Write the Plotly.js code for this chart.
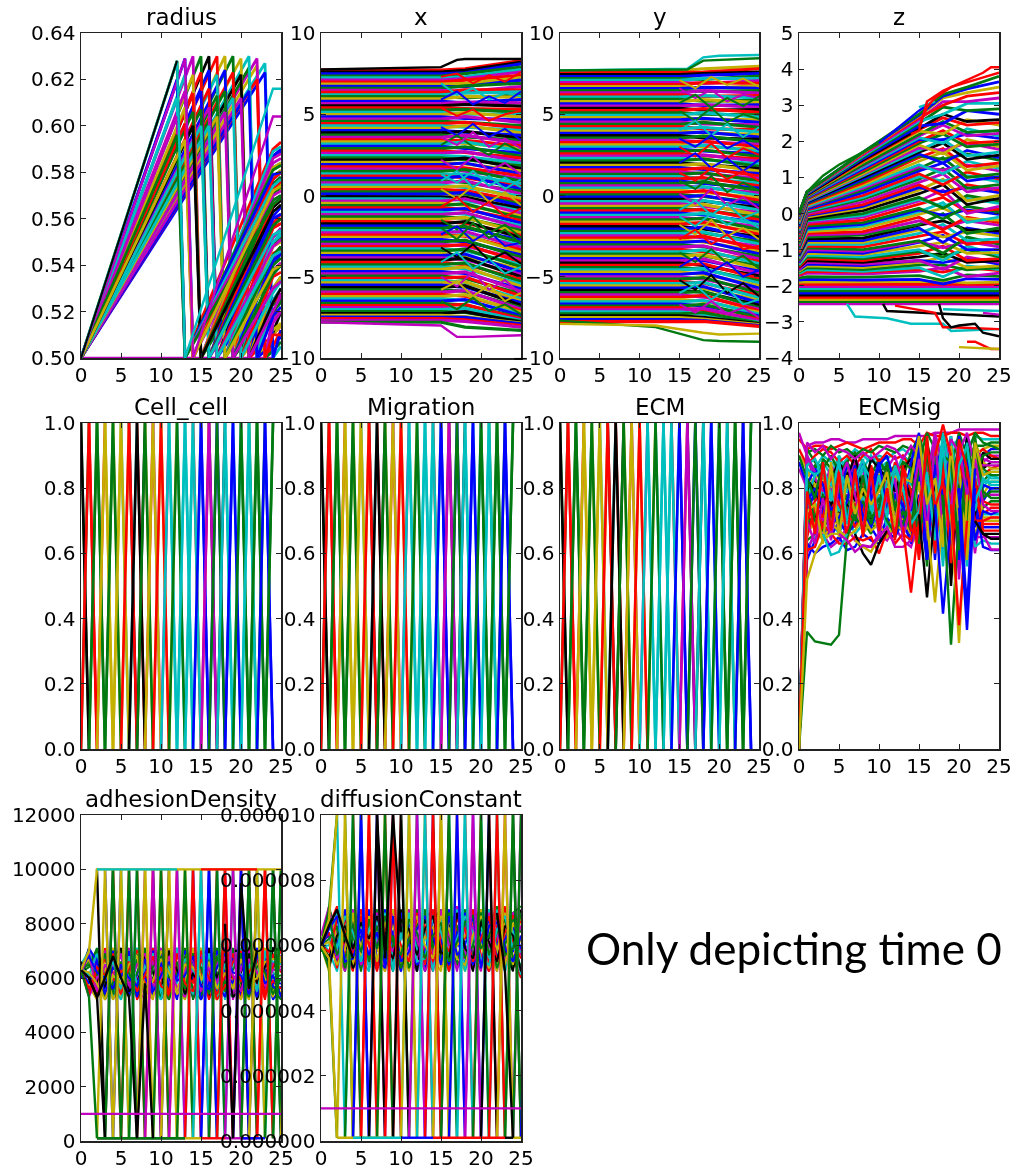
<!DOCTYPE html>
<html><head><meta charset="utf-8">
<script src="https://cdn.plot.ly/plotly-3.0.1.min.js"></script>
<style>html,body{margin:0;padding:0;background:#fff;overflow:hidden}#chart svg{filter:blur(.45px)}</style>
</head><body><div id="chart" style="width:1015px;height:1166px"></div>
<script>
const cycle = {b:"#0000ff",g:"#007a10",r:"#ff0000",c:"#00bfbf",m:"#bf00bf",y:"#c4b000",k:"#000000"};
const cycleKeys = "rbgmcyrgbkcmygrbcmgyrkbgcmrybgmrcgybmkrgcybmgrcybkgmrycbgrmcgkybrmgc".split("");

// radius: [time of peak, peak value, value at 24, value at 25]
const radiusRows = [
[23,.627,.5,.505],[22,.626,.512,.515],[23,.623,.5,.512],[22,.629,.515,.52],[21,.625,.52,.524],[22,.62,.51,.51],[21,.63,.525,.53],
[20,.629,.53,.535],[21,.615,.518,.522],[20,.622,.524,.53],[19,.63,.54,.543],[20,.612,.52,.527],[19,.623,.535,.537],[18,.63,.548,.55],
[19,.612,.528,.533],[18,.624,.542,.545],[18,.615,.536,.54],[17,.63,.556,.558],[18,.606,.53,.533],[17,.622,.55,.553],[17,.613,.544,.548],
[16,.63,.565,.568],[17,.604,.538,.54],[16,.624,.56,.562],[16,.616,.556,.558],[16,.608,.548,.551],[15,.63,.57,.574],[16,.6,.544,.546],
[15,.623,.566,.569],[15,.615,.561,.565],[15,.607,.557,.56],[14,.63,.584,.586],[15,.6,.553,.555],[14,.622,.578,.581],[14,.614,.573,.576],
[14,.606,.568,.57],[13,.629,.587,.589],[14,.6,.563,.566],[13,.622,.589,.591],[13,.615,.586,.588],[13,.608,.582,.584],[12,.628,.581,.583],
[13,.601,.577,.58],[12,.62,.579,.58],[12,.612,.574,.577],[12,.604,.57,.572],[12,.596,.566,.569],[13,.594,.572,.574]
];
// radius: second growth after division: [start time, value at 24, value at 25]
const radiusLegs = [
[13,.59,.593],[14,.587,.59],[14,.575,.578],[14,.568,.57],[15,.582,.584],[15,.57,.573],[15,.558,.56],[15,.549,.552],[16,.577,.58],[16,.565,.568],[16,.552,.554],[16,.543,.546],
[17,.572,.575],[17,.558,.56],[17,.545,.547],[17,.536,.54],[18,.566,.57],[18,.552,.556],[18,.538,.54],[18,.53,.534],[19,.558,.562],[19,.544,.548],[19,.53,.533],[19,.523,.526],
[20,.55,.553],[20,.538,.541],[20,.524,.527],[20,.518,.52],[21,.54,.545],[21,.53,.535],[21,.516,.52],[21,.51,.514],[22,.53,.534],[22,.52,.525],[22,.51,.514],[22,.506,.509],
[23,.518,.528],[23,.511,.52],[23,.505,.512],[23,.503,.507]
];
const radiusCyan = [.5,.628,.5,.616,.616];
const radiusMagenta = [.5,.629,.5,.604,.604];
const radiusFlat = [.5,.5,.5];

// x position: [value up to t=15, value at 18, value at 25]
const xRows = [
[7.72,7.8,8.3],[7.6,7.7,8.2],[7.48,7.55,8.1],[7.35,7.5,7.9],[7.24,7.3,7.75],[7.1,7.2,7.6],[6.98,7.1,7.4],[6.85,6.9,7.25],[6.72,6.7,7.1],[6.6,6.75,6.9],
[6.47,6.4,6.7],[6.35,6.5,6.5],[6.2,6.3,6.38],[6.08,6.0,6.2],[5.95,6.1,6.05],[5.8,5.7,5.9],[5.66,5.75,5.7],[5.52,5.6,5.5],[5.4,5.35,5.3],[5.25,5.3,5.12],
[5.12,5.0,5.0],[4.98,5.1,4.82],[4.84,4.75,4.65],[4.7,4.85,4.5],[4.56,4.5,4.3],[4.42,4.5,4.15],[4.28,4.2,4.0],[4.14,4.3,3.85],[4.0,3.9,3.7],[3.86,3.95,3.52],
[3.72,3.6,3.4],[3.58,3.7,3.22],[3.44,3.4,3.05],[3.3,3.2,2.9],[3.16,3.3,2.75],[3.02,2.9,2.6],[2.88,3.0,2.42],[2.74,2.65,2.3],[2.6,2.7,2.1],[2.46,2.4,1.98],
[2.32,2.2,1.82],[2.18,2.3,1.66],[2.04,1.95,1.5],[1.9,2.0,1.33],[1.76,1.7,1.2],[1.62,1.5,1.02],[1.48,1.6,.88],[1.34,1.3,.7],[1.2,1.1,.55],[1.06,1.2,.4],
[.92,.8,.25],[.78,.9,.1],[.64,.5,-.05],[.5,.6,-.2],[.36,.3,-.36],[.22,.1,-.5],[.08,.2,-.66],[-.06,-.1,-.8],[-.2,-.3,-.95],[-.34,-.2,-1.1],
[-.48,-.6,-1.26],[-.62,-.5,-1.4],[-.76,-.85,-1.55],[-.9,-.8,-1.7],[-1.04,-1.15,-1.85],[-1.18,-1.05,-2.0],[-1.32,-1.4,-2.15],[-1.46,-1.35,-2.3],[-1.6,-1.7,-2.45],[-1.74,-1.6,-2.6],
[-1.88,-2.0,-2.75],[-2.02,-1.9,-2.9],[-2.16,-2.3,-3.05],[-2.3,-2.2,-3.2],[-2.44,-2.5,-3.35],[-2.58,-2.45,-3.5],[-2.72,-2.85,-3.65],[-2.86,-2.75,-3.8],[-3.0,-3.1,-3.95],[-3.14,-3.0,-4.1],
[-3.28,-3.4,-4.25],[-3.42,-3.3,-4.4],[-3.56,-3.7,-4.55],[-3.7,-3.6,-4.7],[-3.84,-3.95,-4.85],[-3.98,-3.85,-5.0],[-4.12,-4.25,-5.15],[-4.26,-4.15,-5.3],[-4.4,-4.5,-5.45],[-4.54,-4.4,-5.6],
[-4.68,-4.8,-5.75],[-4.82,-4.7,-5.9],[-4.96,-5.1,-6.05],[-5.1,-5.0,-6.2],[-5.24,-5.35,-6.35],[-5.38,-5.3,-6.5],[-5.52,-5.65,-6.6],[-5.66,-5.55,-6.75],[-5.8,-5.9,-6.9],[-5.94,-5.85,-7.0],
[-6.08,-6.2,-7.1],[-6.22,-6.1,-7.2],[-6.36,-6.45,-7.3],[-6.5,-6.4,-7.4],[-6.64,-6.75,-7.5],[-6.78,-6.7,-7.6],[-6.9,-7.0,-7.65],[-7.02,-6.95,-7.7],[-7.14,-7.2,-7.75],[-7.26,-7.15,-7.8],
[-7.38,-7.45,-7.85],[-7.48,-7.5,-7.9],[-7.58,-7.65,-8.0],[-7.68,-7.75,-8.1],[-7.8,-8.1,-8.3]
];
// x position: lines that wander late: values at t = 15,17,19,21,23,25
const xDrift = [
[6.9,6.2,6.6,5.9,6.3,6.1],[5.4,4.9,5.3,4.6,5.0,5.2],[4.2,3.7,4.4,3.6,4.1,3.4],[3.1,3.7,3.0,2.5,3.2,2.7],[2.2,1.6,2.4,1.5,2.0,1.3],[1.3,.8,1.5,.6,1.1,.5],
[.4,-.2,.6,-.4,.2,-.6],[-.7,-.1,-1.0,-.4,-1.3,-.8],[-1.5,-2.1,-1.3,-2.3,-1.8,-2.6],[-2.4,-1.9,-2.8,-2.2,-3.1,-2.9],[-3.2,-3.8,-3.0,-4.0,-3.5,-4.2],[-4.1,-3.5,-4.5,-3.9,-4.8,-4.4],
[-5.0,-5.6,-4.7,-5.8,-5.2,-6.1],[-5.8,-5.3,-6.2,-5.5,-6.5,-6.0],[-6.5,-7.0,-6.3,-7.1,-6.7,-7.3],[7.3,7.5,6.9,7.4,7.0,7.6],[5.9,6.4,5.6,6.1,5.7,6.4],[.9,1.5,.5,1.2,.4,1.0],
[3.6,3.1,3.9,3.0,3.5,2.9],[-2.0,-2.7,-1.7,-2.6,-2.1,-3.0]
];
const xTopBlack = [7.75,7.9,8.35,8.4,8.4];
const xLowMagenta = [-7.8,-8.0,-8.7,-8.7,-8.6];

// y position: [value up to t=15, value at 18, value at 25]
const yRows = [
[7.68,7.8,7.95],[7.56,7.6,7.8],[7.44,7.5,7.6],[7.32,7.4,7.5],[7.2,7.15,7.35],[7.08,7.2,7.2],[6.95,6.9,7.05],[6.82,6.95,6.9],[6.7,6.6,6.75],[6.58,6.65,6.6],
[6.45,6.4,6.45],[6.32,6.45,6.3],[6.2,6.1,6.15],[6.06,6.15,6.0],[5.92,5.8,5.85],[5.78,5.9,5.72],[5.64,5.55,5.58],[5.5,5.6,5.42],[5.36,5.25,5.28],[5.22,5.35,5.12],
[5.08,5.0,4.96],[4.94,5.1,4.82],[4.8,4.7,4.66],[4.66,4.75,4.5],[4.52,4.4,4.35],[4.38,4.5,4.2],[4.24,4.1,4.05],[4.1,4.2,3.9],[3.96,3.85,3.75],[3.82,3.9,3.6],
[3.68,3.55,3.45],[3.54,3.65,3.3],[3.4,3.3,3.15],[3.26,3.35,3.0],[3.12,3.0,2.85],[2.98,3.1,2.7],[2.84,2.75,2.55],[2.7,2.8,2.4],[2.56,2.45,2.25],[2.42,2.5,2.1],
[2.28,2.2,1.95],[2.14,2.25,1.8],[2.0,1.9,1.65],[1.86,1.95,1.5],[1.72,1.6,1.35],[1.58,1.7,1.2],[1.44,1.35,1.05],[1.3,1.4,.9],[1.16,1.05,.75],[1.02,1.1,.6],
[.88,.75,.45],[.74,.85,.3],[.6,.5,.15],[.46,.55,0],[.32,.2,-.15],[.18,.3,-.3],[.04,-.05,-.45],[-.1,0,-.6],[-.24,-.35,-.75],[-.38,-.3,-.9],
[-.52,-.65,-1.05],[-.66,-.55,-1.2],[-.8,-.9,-1.35],[-.94,-.85,-1.5],[-1.08,-1.2,-1.65],[-1.22,-1.1,-1.8],[-1.36,-1.45,-1.95],[-1.5,-1.4,-2.1],[-1.64,-1.75,-2.25],[-1.78,-1.65,-2.4],
[-1.92,-2.05,-2.55],[-2.06,-1.95,-2.7],[-2.2,-2.3,-2.85],[-2.34,-2.25,-3.0],[-2.48,-2.6,-3.15],[-2.62,-2.5,-3.3],[-2.76,-2.85,-3.45],[-2.9,-2.8,-3.6],[-3.04,-3.15,-3.75],[-3.18,-3.1,-3.9],
[-3.32,-3.45,-4.05],[-3.46,-3.35,-4.2],[-3.6,-3.7,-4.35],[-3.74,-3.65,-4.5],[-3.88,-4.0,-4.65],[-4.02,-3.9,-4.8],[-4.16,-4.3,-4.95],[-4.3,-4.2,-5.1],[-4.44,-4.55,-5.25],[-4.58,-4.5,-5.4],
[-4.72,-4.85,-5.55],[-4.86,-4.75,-5.7],[-5.0,-5.15,-5.85],[-5.14,-5.05,-6.0],[-5.28,-5.4,-6.15],[-5.42,-5.35,-6.3],[-5.56,-5.7,-6.45],[-5.7,-5.6,-6.6],[-5.84,-5.95,-6.75],[-5.98,-5.9,-6.9],
[-6.12,-6.25,-7.0],[-6.26,-6.15,-7.1],[-6.4,-6.5,-7.2],[-6.54,-6.45,-7.3],[-6.68,-6.8,-7.4],[-6.8,-6.7,-7.5],[-6.92,-7.05,-7.6],[-7.04,-6.95,-7.7],[-7.16,-7.3,-7.8],[-7.28,-7.2,-7.85],
[-7.4,-7.5,-7.9],[-7.52,-7.6,-7.95],[-7.64,-7.7,-8.0],[-7.76,-7.75,-8.05]
];
// y position: lines that wander late: values at t = 15,17,19,21,23,25
const yDrift = [
[6.6,6.0,6.5,5.8,6.2,6.0],[5.2,4.6,5.4,4.5,5.0,4.7],[4.0,4.6,3.7,4.4,3.6,4.2],[3.0,2.4,3.2,2.3,2.9,2.5],[2.0,2.6,1.7,2.3,1.5,2.2],[.9,.4,1.2,.2,.8,.3],
[.1,-.5,.4,-.6,-.1,-.8],[-.9,-.3,-1.2,-.5,-1.4,-1.0],[-1.8,-2.4,-1.5,-2.5,-2.0,-2.7],[-2.7,-2.1,-3.0,-2.4,-3.3,-3.1],[-3.5,-4.1,-3.3,-4.2,-3.7,-4.5],[-4.4,-3.8,-4.7,-4.1,-5.0,-4.6],
[-5.2,-5.8,-4.9,-6.0,-5.4,-6.2],[-6.0,-5.5,-6.4,-5.7,-6.7,-6.4],[-6.7,-7.2,-6.5,-7.3,-6.9,-7.5],[7.1,6.6,7.3,6.8,7.2,6.7],[5.7,6.2,5.4,6.0,5.5,6.1],[1.4,.9,1.7,1.0,1.5,.9],
[3.5,3.0,3.7,2.9,3.4,2.8],[-1.3,-1.9,-1.1,-1.8,-1.4,-2.0]
];
const yHighCyan = [7.7,7.8,8.5,8.6,8.65];
const yHighGreen = [7.7,7.75,8.3,8.35,8.45];
const yLowGreen = [-7.7,-8.1,-8.9,-8.95,-9.0];
const yLowOlive = [-7.9,-8.0,-8.45,-8.55,-8.5];

// z position: [t=0, 1, 8, 15, 18, 21, 25]
const zRows = [
[-2.5,-2.5,-2.5,-2.5,-2.5,-2.5,-2.5],[-2.44,-2.44,-2.44,-2.44,-2.44,-2.44,-2.44],[-2.38,-2.38,-2.38,-2.38,-2.38,-2.38,-2.38],[-2.32,-2.32,-2.32,-2.32,-2.32,-2.32,-2.32],
[-2.26,-2.26,-2.26,-2.26,-2.26,-2.26,-2.26],[-2.2,-2.2,-2.2,-2.2,-2.2,-2.2,-2.2],[-2.14,-2.14,-2.14,-2.14,-2.14,-2.14,-2.14],[-2.08,-2.08,-2.08,-2.08,-2.08,-2.08,-2.08],
[-2.02,-2.02,-2.02,-2.02,-2.02,-2.02,-2.02],[-1.96,-1.96,-1.96,-1.96,-1.96,-1.96,-1.96],[-1.9,-1.9,-1.9,-1.9,-1.88,-1.92,-1.9],[-1.84,-1.82,-1.84,-1.82,-1.95,-1.8,-1.82],
[-1.78,-1.75,-1.76,-1.72,-1.85,-1.7,-1.74],[-1.72,-1.65,-1.68,-1.6,-1.5,-1.75,-1.65],[-1.7,-1.6,-1.62,-1.55,-1.62,-1.5,-1.58],[-1.66,-1.55,-1.6,-1.5,-1.75,-1.45,-1.55],[-1.62,-1.5,-1.55,-1.42,-1.42,-1.56,-1.5],[-1.6,-1.45,-1.5,-1.35,-1.2,-1.5,-1.45],
[-1.56,-1.4,-1.44,-1.3,-1.36,-1.24,-1.4],[-1.54,-1.35,-1.4,-1.3,-1.55,-1.2,-1.35],[-1.5,-1.3,-1.35,-1.2,-1.1,-1.35,-1.3],[-1.48,-1.25,-1.3,-1.1,-.9,-1.3,-1.25],[-1.44,-1.2,-1.25,-1.05,-1.2,-1.0,-1.2],[-1.42,-1.15,-1.2,-1.0,-1.3,-.9,-1.15],[-1.38,-1.1,-1.14,-.9,-.8,-1.1,-1.08],[-1.36,-1.05,-1.1,-.8,-.6,-1.0,-1.0],
[-1.32,-1.0,-1.05,-.78,-.95,-.78,-.92],[-1.3,-.95,-1.0,-.75,-1.1,-.65,-.85],[-1.26,-.9,-.92,-.62,-.5,-.85,-.78],[-1.24,-.85,-.85,-.55,-.3,-.75,-.7],[-1.2,-.8,-.8,-.45,-.65,-.5,-.62],[-1.18,-.75,-.75,-.4,-.8,-.4,-.55],[-1.14,-.7,-.68,-.32,-.2,-.45,-.48],[-1.12,-.65,-.6,-.3,0,-.55,-.4],[-1.08,-.6,-.55,-.2,-.4,-.2,-.32],[-1.06,-.55,-.5,-.1,-.45,-.1,-.25],
[-1.02,-.5,-.42,-.02,.15,-.15,-.18],[-1,-.45,-.35,.05,.3,-.25,-.1],[-.96,-.4,-.3,.1,-.05,.1,-.02],[-.94,-.35,-.25,.15,-.15,.2,.05],[-.9,-.3,-.18,.25,.45,.05,.12],[-.88,-.25,-.1,.35,.65,0,.2],[-.84,-.2,-.05,.4,.2,.42,.28],[-.82,-.18,0,.45,.15,.5,.35],[-.78,-.14,.08,.55,.8,.25,.42],[-.76,-.1,.15,.65,.95,.35,.5],
[-.72,-.06,.2,.72,.6,.72,.58],[-.7,-.03,.25,.8,.5,.8,.65],[-.66,0,.32,.88,1.1,.6,.72],[-.64,.04,.4,.95,1.25,.7,.8],[-.6,.07,.45,1.02,.9,1.05,.88],[-.58,.1,.5,1.1,.8,1.15,.95],[-.54,.13,.58,1.18,1.4,.9,1.02],[-.52,.16,.65,1.25,1.55,1.0,1.1],[-.48,.18,.7,1.3,1.2,1.35,1.18],[-.46,.2,.75,1.35,1.1,1.45,1.25],
[-.42,.23,.8,1.45,1.7,1.2,1.32],[-.4,.25,.85,1.55,1.8,1.3,1.4],[-.36,.28,.9,1.6,1.5,1.65,1.48],[-.34,.3,.95,1.65,1.4,1.75,1.55],[-.3,.32,1,1.7,1.95,1.5,1.62],[-.28,.34,1.05,1.75,2.05,1.6,1.7],[-.24,.36,1.08,1.82,1.75,1.95,1.78],[-.22,.38,1.1,1.9,1.65,2.05,1.85],[-.18,.4,1.15,1.95,2.2,1.85,1.92],[-.16,.42,1.2,2.0,2.3,1.95,2.0],[-.14,.44,1.24,2.05,2.05,2.2,2.08],
[-.12,.46,1.28,2.1,1.95,2.35,2.15],[-.1,.47,1.32,2.15,2.45,2.15,2.22],[-.08,.48,1.35,2.2,2.55,2.25,2.3],[-.05,.5,1.42,2.28,2.2,2.6,2.45],[-.04,.51,1.45,2.32,2.65,2.45,2.52],[-.03,.52,1.48,2.35,2.75,2.55,2.6],[-.02,.54,1.52,2.42,2.5,2.85,2.75],
[-.01,.56,1.56,2.5,2.95,2.85,2.9],[0,.57,1.6,2.55,2.75,3.05,3.05],[0,.58,1.63,2.6,3.1,3.1,3.2],[0,.59,1.66,2.65,3.0,3.25,3.35],[0,.6,1.68,2.7,3.2,3.35,3.5],[0,.6,1.7,2.72,3.25,3.45,3.65],[0,.6,1.7,2.75,3.3,3.5,3.8]
];
const zExtraSets = [
 {c:"g",t:[0,1,3,5,8,10],v:[0,.6,1.05,1.35,1.7,1.95]},
 {c:"b",t:[10,15,16,17],v:[1.95,2.85,3.0,3.05]},
 {c:"c",t:[15,17],v:[2.95,3.1]},
 {c:"r",t:[14,15,16,18,20,23,24,25],v:[2.2,2.3,3.1,3.4,3.6,3.9,4.05,4.05]},
 {c:"r",t:[15,16,17,19,22,25],v:[2.4,2.95,3.2,3.5,3.7,3.9]},
 {c:"c",t:[6,7,11,14,18,19,25],v:[-2.5,-2.85,-2.9,-3.05,-3.05,-3.25,-3.2]},
 {c:"k",t:[10.5,11,25],v:[-2.5,-2.7,-2.85]},
 {c:"r",t:[12,17,18,19,25],v:[-2.55,-2.75,-3.15,-3.15,-3.2]},
 {c:"k",t:[17.5,18,19,20,22,23,25],v:[-2.5,-2.9,-3.15,-3.1,-3.05,-3.3,-3.4]},
 {c:"c",t:[18,25],v:[-2.65,-2.7]},
 {c:"m",t:[23,25],v:[-2.75,-2.8]},
 {c:"r",t:[21,22,23,24,25],v:[-3.55,-3.55,-3.65,-3.75,-3.75]},
 {c:"y",t:[20,25],v:[-3.7,-3.75]}
];

// ECMsig, in hundredths, t = 0..25
const ecmRows = [
[0,93,94,94,95,95,94,94,95,95,95,95,96,96,96,96,96,97,97,97,98,98,98,98,98,98],
[95,92,93,93,92,93,94,93,92,93,94,94,94,95,95,93,97,96,96,97,97,96,97,97,96,96],
[0,88,86,90,88,86,89,92,90,88,90,89,91,92,90,95,85,96,90,93,95,92,96,95,95,95],
[0,84,87,83,82,86,88,84,82,86,85,87,84,88,87,70,95,78,93,72,92,88,93,93,94,94],
[0,78,83,85,80,78,82,86,83,80,84,80,83,85,82,92,66,94,60,96,70,94,90,92,93,93],
[0,74,78,76,82,76,73,78,82,84,80,82,78,80,86,66,93,58,90,55,92,62,91,90,92,92],
[86,80,72,76,74,79,83,77,72,74,78,73,80,76,74,90,62,90,68,94,52,90,72,88,90,90],
[0,68,71,74,79,72,75,72,78,70,74,79,72,78,72,83,88,64,95,50,88,58,94,86,88,88],
[0,72,68,72,68,76,70,74,68,76,70,72,76,70,78,60,90,72,85,65,96,75,85,84,86,87],
[0,64,66,70,74,70,67,72,70,66,72,70,68,74,68,86,56,88,62,90,60,92,70,82,85,85],
[0,62,65,65,70,66,72,66,69,72,67,69,72,66,70,64,84,60,92,70,82,56,88,80,84,83],
[90,86,80,84,78,82,79,85,76,82,80,76,84,78,83,73,92,82,75,92,70,88,64,78,82,82],
[0,58,64,68,65,70,66,69,74,68,64,71,67,72,65,78,60,85,58,84,75,66,92,76,80,80],
[0,76,74,70,80,74,78,70,75,79,76,74,70,82,76,91,70,62,88,60,90,80,60,78,78,78],
[0,82,76,80,72,84,76,82,79,74,83,77,82,75,80,68,86,94,70,88,62,85,76,74,76,76],
[0,70,75,68,76,68,74,68,72,78,70,84,75,68,74,88,63,76,92,66,86,70,90,72,74,74],
[0,90,85,88,84,90,85,88,86,90,86,88,84,90,88,94,78,90,82,92,80,93,84,72,72,72],
[0,66,70,73,67,72,69,76,66,70,68,66,74,70,66,62,88,70,64,94,72,82,66,70,70,70],
[0,73,79,72,86,78,71,80,74,68,75,72,78,72,84,76,58,93,74,68,94,60,80,68,68,68],
[0,79,82,78,75,80,85,76,84,77,82,86,79,84,77,60,90,68,86,75,66,90,74,66,66,66],
[0,92,88,86,90,85,88,91,88,84,89,84,87,83,91,96,88,72,95,85,78,95,88,86,84,84],
[0,60,67,66,62,64,68,64,62,62,66,64,68,64,62,70,93,62,84,64,92,68,65,65,65,65],
[92,87,90,92,91,88,90,87,90,92,88,91,89,90,86,92,74,96,68,90,84,72,90,92,90,89],
[0,85,81,82,85,81,86,83,80,85,81,83,86,81,85,80,95,74,90,62,94,78,94,88,86,86],
[0,75,73,80,70,74,80,74,77,72,78,68,70,76,72,95,72,86,56,93,68,84,62,64,63,63],
[0,63,60,62,63,65,61,62,66,64,63,66,65,70,63,84,60,92,76,96,58,96,76,62,61,61],
[0,91,92,90,93,91,92,90,92,91,93,92,91,93,92,88,97,92,97,86,97,90,97,94,93,92],
[0,71,76,82,77,86,81,88,81,87,79,81,85,87,79,58,86,66,94,80,63,93,82,76,75,75],
[0,89,83,79,87,83,80,89,85,78,82,86,90,81,84,75,90,66,96,78,90,74,92,89,88,88],
[0,77,84,87,78,73,84,79,86,82,72,78,74,84,81,93,82,70,84,96,76,91,80,85,83,83],
[0,69,72,78,71,80,77,71,68,74,81,75,71,69,76,66,78,92,64,82,93,65,87,79,77,77],
[0,83,79,74,83,88,83,90,78,89,86,83,79,86,89,71,94,80,66,90,72,96,70,91,89,89],
[0,67,69,64,69,67,65,67,71,67,69,65,69,67,69,82,64,95,80,70,88,58,93,71,71,71],
[88,81,86,81,73,77,87,82,88,76,87,90,81,74,88,97,68,85,94,60,96,82,68,81,80,80],
[0,65,74,71,84,75,70,75,73,81,73,76,88,77,71,62,96,60,87,76,64,88,78,69,69,69],
[0,94,91,93,89,92,91,89,91,89,91,93,92,89,93,90,82,97,86,95,91,97,87,87,87,87],
[0,80,70,67,73,69,82,73,76,69,77,70,66,73,67,87,76,93,72,86,80,70,96,77,79,79],
[0,87,89,84,81,87,79,81,87,83,71,82,86,79,85,69,89,76,97,83,67,94,73,83,81,81],
[0,61,62,69,66,63,63,65,64,65,60,67,63,66,64,74,91,68,88,57,90,76,83,67,67,67],
[0,76,80,75,69,71,76,87,70,80,88,74,77,81,73,94,58,87,78,92,74,89,64,73,72,73],
[90,83,77,89,86,80,73,70,84,71,74,88,73,88,86,63,92,71,90,88,61,92,84,90,91,91],
[0,70,63,77,64,82,88,78,67,85,65,78,83,65,75,89,67,95,66,74,93,78,89,75,73,73],
[0,86,84,86,76,89,69,83,89,73,84,71,87,80,69,73,85,64,94,68,87,93,76,82,82,82],
[0,73,75,63,88,65,84,72,80,75,79,85,69,83,82,96,75,83,62,93,70,63,94,84,85,85],
[0,79,66,88,67,85,64,86,65,86,67,80,64,87,67,68,94,74,82,64,95,86,70,70,71,71]
];
const ecmSpecial = [
 {c:"g",t:[0,1,2,3,4,5,6,7],v:[0,.36,.33,.325,.32,.35,.65,.72]},
 {c:"y",t:[0,1,2,3,4,5],v:[0,.52,.6,.64,.66,.66]},
 {c:"c",t:[3,4,5,6],v:[.66,.595,.605,.66]},
 {c:"k",t:[7,8,9,10,11],v:[.66,.6,.565,.63,.67]},
 {c:"y",t:[7,8,9,10],v:[.64,.62,.605,.65]},
 {c:"m",t:[5,6,7,8,9,10,11,12,13,14],v:[.66,.64,.605,.625,.62,.65,.68,.62,.62,.64]},
 {c:"r",t:[13,14,15],v:[.68,.48,.7]},
 {c:"k",t:[15,16,17],v:[.72,.465,.74]},
 {c:"y",t:[16,17,18],v:[.7,.45,.72]},
 {c:"b",t:[17,18,19],v:[.75,.415,.7]},
 {c:"g",t:[18,19,20],v:[.78,.32,.7]},
 {c:"y",t:[19,20,21],v:[.72,.325,.78]},
 {c:"r",t:[19,20,21],v:[.75,.38,.7]},
 {c:"b",t:[20,21,22],v:[.74,.365,.8]},
 {c:"b",t:[20,21,22],v:[.8,.43,.86]},
 {c:"r",t:[17,18,19],v:[.9,.995,.9]},
 {c:"m",t:[0,1,2],v:[.97,.9,.85]},
 {c:"m",t:[23,24,25],v:[.66,.612,.612]},
 {c:"k",t:[22,23,24,25],v:[.7,.66,.645,.645]}
];

// Cell_cell, Migration, ECM: colour reaching 1 and 0 at each time 0..24
const cellTopColours = ["k","r","g","y","g","y","r","k","g","y","r","c","g","c","c","b","m","g","c","b","g","c","g","b","g"];
const cellBottomColours = ["g","g","r","g","y","y","c","k","r","y","m","y","c","c","c","r","b","k","b","c","c","g","g","g","b"];
const cellLevels = [0,1,0];

// adhesionDensity, band lines in hundreds, t = 0..25
const adhesionBand = [
[63,71,53,62,71,54,63,70,53,60,71,55,64,71,53,62,70,54,66,71,53,60,70,56,64,66],
[63,55,68,54,60,70,53,61,71,55,66,52,70,60,53,68,71,54,60,70,53,66,71,54,58,58],
[63,68,58,71,52,64,71,55,60,71,52,65,71,56,60,71,53,64,71,57,62,71,52,60,71,70],
[63,60,71,60,53,71,58,53,66,71,54,62,71,52,69,56,62,71,52,65,71,56,61,71,53,53],
[63,70,63,53,66,60,71,56,52,67,71,58,53,66,71,54,60,66,71,52,64,71,54,60,68,68],
[64,57,52,66,71,52,60,71,58,53,62,71,57,52,66,71,55,52,63,71,57,52,66,71,55,55],
[63,66,70,58,54,66,53,62,71,62,52,68,60,71,52,60,66,71,56,53,68,60,53,66,60,61],
[62,62,54,71,62,56,68,52,58,71,60,53,66,54,71,63,52,60,70,60,52,71,62,52,69,62],
[63,58,66,56,70,63,54,66,60,54,69,60,52,68,60,53,70,58,53,68,60,54,71,63,52,57],
[65,70,60,68,57,52,66,71,63,56,52,64,71,62,54,66,60,53,69,55,71,64,56,70,62,59],
[63,53,60,70,64,68,56,60,54,66,62,70,56,53,64,69,57,66,60,54,63,70,58,55,66,64],
[62,64,71,52,58,71,62,54,70,63,57,52,62,68,56,52,67,62,55,71,58,53,64,68,56,52],
[63,67,56,64,52,58,70,66,56,52,70,66,54,58,71,60,55,69,64,58,52,63,70,60,53,68],
[63,56,62,67,60,54,64,70,66,58,64,54,68,64,58,70,63,52,57,66,70,55,60,54,64,70],
[66,60,53,57,68,71,55,58,68,62,56,70,63,54,62,56,71,60,67,53,56,69,58,64,70,71],
[60,71,66,54,64,60,70,53,62,70,66,57,60,70,66,52,58,70,62,58,66,60,53,68,57,54],
[63,65,61,69,55,66,58,67,54,64,68,60,66,56,69,64,54,68,58,63,69,56,67,62,54,60],
[64,61,69,59,66,56,68,58,64,69,55,63,58,67,63,58,69,56,65,69,60,65,55,68,66,65],
[62,69,55,65,60,69,57,65,69,57,60,68,55,63,67,55,64,58,68,61,55,67,62,57,63,63],
[63,54,64,61,69,62,66,55,61,68,57,55,69,58,55,67,60,54,61,69,59,62,68,54,59,56],
[63,62,58,52,61,58,65,68,55,59,67,62,55,65,64,59,66,56,62,56,67,58,60,66,67,67],
[64,68,62,60,56,65,60,57,67,55,61,66,59,61,68,57,56,64,69,62,61,54,69,58,61,53]
];
const adhesionPeakColours = ["y","g","y","g","g","y","m","g","y","m","g","r","c","b","g","r","m","b","g","y","r","g","g","y"];
const adhesionValleyColours = ["k","b","r","c","m","r","y","k","r","y","c","y","b","r","g","c","m","g","k","r","c","g","k"];
const adhesionStartRows = [
 {c:"g",t:[0,1,2],v:[6300,5300,100]},{c:"k",t:[0,1,2,3],v:[6300,6000,5300,100]},
 {c:"y",t:[0,1,2,25],v:[6300,7000,10000,10000]},{c:"c",t:[2,12],v:[10000,10000]},
 {c:"k",t:[2,13],v:[100,100]},{c:"g",t:[2,13],v:[100,100]},{c:"y",t:[13,15],v:[100,100]},{c:"r",t:[15,18],v:[100,100]},
 {c:"m",t:[18,22],v:[100,100]},{c:"b",t:[20,23],v:[100,100]},{c:"r",t:[15,22],v:[10000,10000]},
 {c:"k",t:[1,2,3,4,5,6,7,8,9],v:[6000,5300,6000,6800,6000,5300,100,5800,100]},
 {c:"k",t:[18,19,20,21,22],v:[8000,100,9500,5600,7000]},
 {c:"m",t:[0,25],v:[1000,1000]}
];

// diffusionConstant, band lines in units of 1e-7, t = 0..25
const diffusionBand = [
[60,72,62,52,66,71,53,62,70,60,52,71,62,53,68,71,54,60,70,53,65,71,54,62,70,72],
[61,54,64,71,55,60,71,66,52,61,70,57,52,68,71,55,62,72,58,53,71,60,52,66,70,65],
[60,66,72,58,52,71,62,53,68,71,54,62,71,58,52,65,71,56,53,68,71,54,62,72,56,50],
[62,58,52,66,71,56,52,68,71,57,63,71,52,62,70,54,59,68,71,54,60,71,58,52,62,53],
[59,70,60,54,68,62,56,71,60,52,68,60,71,54,60,68,52,63,71,60,54,66,72,60,53,60],
[60,52,68,62,54,70,64,56,52,68,58,52,66,71,56,52,70,58,52,66,71,58,52,68,64,68],
[61,63,55,71,60,53,68,60,71,63,52,67,60,52,66,60,71,62,54,71,63,52,60,71,58,62],
[60,68,58,52,71,64,54,62,58,70,62,71,56,60,54,71,63,52,66,58,52,70,63,55,70,57],
[62,56,70,61,53,58,70,54,64,55,71,63,52,68,62,57,66,70,60,52,68,62,70,58,52,71],
[60,64,53,68,62,71,60,52,62,68,56,62,70,54,71,60,52,66,62,71,57,52,66,71,61,56],
[58,71,65,56,64,52,66,71,55,60,66,53,60,71,58,66,62,54,68,56,70,64,53,60,68,64],
[60,60,70,55,58,68,53,63,70,52,62,70,58,64,52,68,57,71,52,62,66,56,71,52,65,51],
[61,70,62,64,70,56,62,58,66,71,54,56,68,62,66,53,68,60,63,68,60,53,58,70,54,69],
[60,55,60,70,57,62,71,56,53,64,70,60,54,58,68,62,54,64,70,54,62,68,56,62,66,59],
[63,72,56,60,66,54,58,70,63,58,66,68,62,52,58,70,60,53,57,66,55,60,68,55,60,66],
[60,62,66,53,62,68,55,66,57,63,53,62,66,70,60,56,70,66,56,60,70,57,64,68,56,54],
[60,58,68,64,57,69,60,54,65,67,60,55,69,66,55,63,58,68,65,55,62,69,55,64,69,67],
[61,67,59,69,64,55,65,69,56,54,64,69,55,56,69,64,55,62,69,64,56,54,65,69,59,58],
[60,61,54,59,69,59,69,55,67,66,58,64,69,60,56,69,65,56,54,63,69,65,59,54,67,61],
[59,65,69,55,56,65,57,64,54,69,55,58,65,69,63,54,69,57,60,69,53,66,67,59,55,63],
[62,53,63,66,59,67,62,69,60,56,68,65,57,65,69,58,56,70,59,56,67,61,55,66,63,52],
[60,69,57,63,66,58,68,59,69,61,57,68,64,56,63,67,55,61,67,69,59,63,69,57,59,70]
];
const diffusionPeakColours = ["y","g","b","r","k","g","r","k","y","m","c","r","y","g","b","c","m","g","k","r","y","g","g","b"];
const diffusionValleyColours = ["c","g","r","b","y","m","r","c","g","y","b","r","k","y","c","m","r","b","c","r","g","m","k"];
const diffusionStartRows = [
 {c:"g",t:[0,1,2],v:[6e-6,5.3e-6,1e-7]},{c:"y",t:[0,1,2],v:[6e-6,5.6e-6,1e-7]},
 {c:"g",t:[0,1,2],v:[6e-6,7.1e-6,1e-5]},{c:"y",t:[0,1,2],v:[6e-6,6.8e-6,1e-5]},
 {c:"y",t:[2,9],v:[1e-7,1e-7]},{c:"c",t:[4,10],v:[1e-7,1e-7]},{c:"b",t:[10,14],v:[1e-7,1e-7]},
 {c:"r",t:[14,23],v:[1e-7,1e-7]},{c:"k",t:[23,24],v:[1e-7,1e-7]},{c:"y",t:[24,25],v:[1e-7,1e-7]},
 {c:"k",t:[0,1,2,3,4],v:[6e-6,6.6e-6,7.1e-6,6.3e-6,5.6e-6]},
 {c:"k",t:[22,23,24],v:[7e-6,5.2e-6,1e-7]},
 {c:"k",t:[7,8,9,10],v:[1e-5,5.6e-6,1e-5,6.4e-6]},
 {c:"m",t:[0,25],v:[1e-6,1e-6]}
];

const panelTitles = ["radius","x","y","z","Cell_cell","Migration","ECM","ECMsig","adhesionDensity","diffusionConstant"];
const xTickLabels = ["0","5","10","15","20","25"];
const noteText = "Only depicting time 0 -";

// ---- layout geometry ----
const W = 1015, H = 1166;
const cols = [[81,281],[321,521],[560,759],[799,999]];
const rows = [[33,358],[423,749],[815,1141]];
const slots = [[0,0],[0,1],[0,2],[0,3],[1,0],[1,1],[1,2],[1,3],[2,0],[2,1]];
const yAxisSpecs = [
 {range:[.5,.64],dtick:.02,tickformat:".2f"},{range:[-10,10],dtick:5},{range:[-10,10],dtick:5},{range:[-4,5],dtick:1},
 {range:[0,1],dtick:.2,tickformat:".1f"},{range:[0,1],dtick:.2,tickformat:".1f"},{range:[0,1],dtick:.2,tickformat:".1f"},{range:[0,1],dtick:.2,tickformat:".1f"},
 {range:[0,12000],dtick:2000,tickformat:"d"},{range:[0,1e-5],dtick:2e-6,tickformat:".6f"}
];
const tickFont = {family:"DejaVu Sans",size:20,color:"#000"};
const layout = {width:W,height:H,margin:{l:0,r:0,t:0,b:0},showlegend:false,paper_bgcolor:"#fff",plot_bgcolor:"#fff",annotations:[],hovermode:false};
slots.forEach(([r,c],i)=>{
  const n = i===0?"":String(i+1);
  const base = {showgrid:false,zeroline:false,showline:true,linecolor:"#222",linewidth:1.5,mirror:"ticks",ticks:"inside",ticklen:5,tickwidth:1,tickcolor:"#222",tickfont:tickFont};
  layout["xaxis"+n] = Object.assign({},base,{domain:[cols[c][0]/W,cols[c][1]/W],range:[0,25],tickmode:"array",tickvals:xTickLabels.map(Number),ticktext:xTickLabels,anchor:"y"+n,ticklabelstandoff:-2});
  layout["yaxis"+n] = Object.assign({},base,{domain:[1-rows[r][1]/H,1-rows[r][0]/H],anchor:"x"+n,tickmode:"linear",tick0:yAxisSpecs[i].range[0]},yAxisSpecs[i]);
  layout.annotations.push({text:panelTitles[i],xref:"paper",yref:"paper",x:(cols[c][0]+cols[c][1])/2/W,y:1-(rows[r][0]-16)/H,xanchor:"center",yanchor:"middle",showarrow:false,font:{family:"DejaVu Sans",size:23,color:"#000"}});
});
layout.annotations.push({text:noteText,xref:"paper",yref:"paper",x:584/W,y:1-948/H,xanchor:"left",yanchor:"middle",showarrow:false,font:{family:"Lato",size:44,color:"#000"}});

// ---- traces ----
const traces = [];
let colourIdx = 0;
function add(panel,t,v,key,width){
  const n = panel===0?"":String(panel+1);
  const k = key || cycleKeys[colourIdx++ % cycleKeys.length];
  traces.push({type:"scatter",mode:"lines",x:t,y:v,xaxis:"x"+n,yaxis:"y"+n,line:{color:cycle[k],width:width||2.4},hoverinfo:"skip"});
}
// radius
radiusFlat && add(0,[0,12,24],radiusFlat,"m");
radiusLegs.forEach(r=>add(0,[r[0],24,25],[.5,r[1],r[2]],null,2.8));
radiusRows.forEach(r=>{
  const tp=r[0];
  if(tp+1>=24) add(0,[0,tp,24,25],[.5,r[1],r[2],r[3]],null,2.8);
  else add(0,[0,tp,tp+1,24,25],[.5,r[1],.5,r[2],r[3]],null,2.8);
});
add(0,[0,13,14,24,25],radiusMagenta,"m");
add(0,[0,12,13,24,25],radiusCyan,"c");
add(0,[0,12],[.5,.628],"k",2);
// x, y
const driftT = [15,17,19,21,23,25];
xRows.forEach(r=>add(1,[0,15,18,25],[r[0],r[0],r[1],r[2]],null,3.2));
xDrift.forEach(r=>add(1,driftT,r,null,2));
add(1,[0,15,17,18,25],xTopBlack,"k");
add(1,[0,15,17,19,25],xLowMagenta,"m");
yRows.forEach(r=>add(2,[0,15,18,25],[r[0],r[0],r[1],r[2]],null,3.2));
yDrift.forEach(r=>add(2,driftT,r,null,2));
add(2,[0,16,18,20,25],yHighCyan,"c");
add(2,[0,16,18,20,25],yHighGreen,"g");
add(2,[0,12,18,20,25],yLowGreen,"g");
add(2,[0,12,18,20,25],yLowOlive,"y");
// z
zRows.forEach(r=>add(3,[0,1,8,15,18,21,25],r,null,2.8));
zExtraSets.forEach(s=>add(3,s.t,s.v,s.c));
// cell panels
[4,5,6].forEach(p=>{
  cellBottomColours.forEach((k,t)=>{
    const xs=[t-1,t,t+1].filter(q=>q>=0&&q<=24);
    const lv=cellLevels.filter((_,j)=>t-1+j>=0&&t-1+j<=24).map(q=>1-q);
    add(p,xs,lv,k,2.6);
  });
  cellTopColours.forEach((k,t)=>{
    const xs=[t-1,t,t+1].filter(q=>q>=0&&q<=24);
    const lv=cellLevels.filter((_,j)=>t-1+j>=0&&t-1+j<=24);
    add(p,xs,lv,k,2.6);
  });
});
// ECMsig
const T26 = ecmRows[0].map((_,i)=>i);
ecmRows.forEach(r=>add(7,T26,r.map(q=>q/100),null,2.4));
ecmSpecial.forEach(s=>add(7,s.t,s.v,s.c,2.4));
// adhesion
adhesionBand.forEach(r=>add(8,T26,r.map(q=>q*100),null,2));
adhesionValleyColours.forEach((k,i)=>add(8,[i+2,i+3,i+4],[10000,100,10000],k));
adhesionPeakColours.forEach((k,i)=>add(8,[i+2,i+3,i+4],[100,10000,100],k));
adhesionStartRows.forEach(s=>add(8,s.t,s.v,s.c));
// diffusion
diffusionBand.forEach(r=>add(9,T26,r.map(q=>q*1e-7),null,2));
diffusionValleyColours.forEach((k,i)=>add(9,[i+2,i+3,i+4],[1e-5,1e-7,1e-5],k));
diffusionPeakColours.forEach((k,i)=>add(9,[i+2,i+3,i+4],[1e-7,1e-5,1e-7],k));
diffusionStartRows.forEach(s=>add(9,s.t,s.v,s.c));

Plotly.newPlot("chart",traces,layout,{displayModeBar:false,staticPlot:true});
</script></body></html>
